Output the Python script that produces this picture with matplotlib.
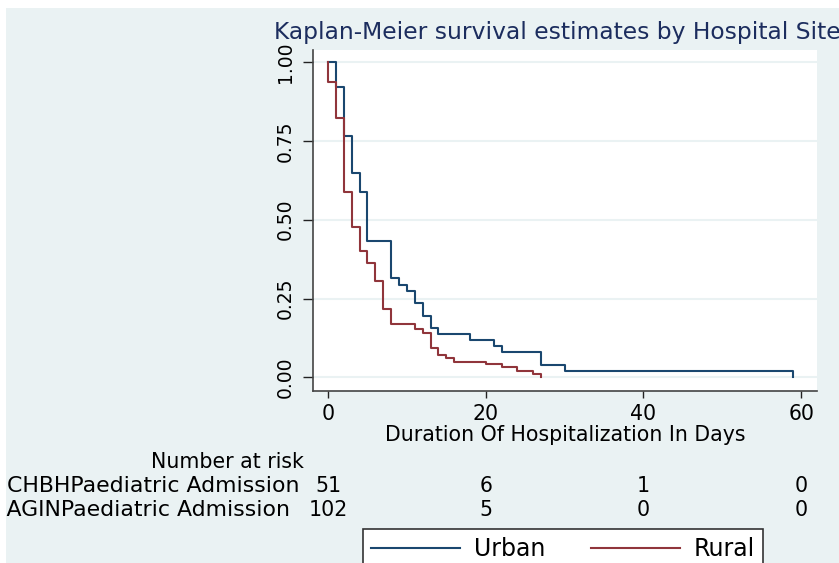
import matplotlib
matplotlib.use('Agg')
import matplotlib.pyplot as plt
from matplotlib.patches import Rectangle
from matplotlib.transforms import blended_transform_factory

W, H = 839, 563

# Kaplan-Meier steps
urban_days = [0, 1, 2, 3, 4, 5, 8, 9, 10, 11, 12, 13, 14, 18, 21, 22, 27, 30, 59]
urban_surv = [1.000, 0.922, 0.765, 0.647, 0.588, 0.431, 0.314, 0.294, 0.275, 0.235,
              0.196, 0.157, 0.137, 0.118, 0.099, 0.080, 0.040, 0.020, 0.000]

rural_days = [0, 0, 1, 2, 3, 4, 5, 6, 7, 8, 11, 12, 13, 14, 15, 16, 20, 22, 24, 26, 27]
rural_surv = [1.000, 0.938, 0.822, 0.589, 0.478, 0.402, 0.364, 0.307, 0.218, 0.169,
              0.153, 0.140, 0.092, 0.071, 0.061, 0.050, 0.042, 0.032, 0.021, 0.011, 0.000]

x_ticks = [0, 20, 40, 60]
y_ticks = [0.0, 0.25, 0.5, 0.75, 1.0]

risk_labels = ['CHBHPaediatric Admission', '= AGINPaediatric Admission']
urban_at_risk = [51, 6, 1, 0]
rural_at_risk = [102, 5, 0, 0]
series_names = ['Urban', 'Rural']

navy = '#1a476f'
maroon = '#90353b'
bg = '#eaf2f3'


def fx(px):
    return px / W


def fy(py):
    return 1 - py / H


fig = plt.figure(figsize=(W / 100, H / 100), dpi=100)
fig.patch.set_facecolor('white')
# light Stata-style background (small white strip at top and left)
fig.add_artist(Rectangle((fx(6), 0), 1, fy(8), transform=fig.transFigure,
                         facecolor=bg, edgecolor='none', zorder=-10))

ax = fig.add_axes([fx(313), fy(391), fx(817) - fx(313), fy(50) - fy(391)])
ax.set_facecolor('white')

l1, = ax.step(urban_days, urban_surv, where='post', color=navy, lw=1.5, zorder=3)
l2, = ax.step(rural_days, rural_surv, where='post', color=maroon, lw=1.5, zorder=3)

ax.set_xlim(-1.9, 62.0)
ax.set_ylim(-0.043, 1.038)
ax.set_xticks(x_ticks)
ax.set_yticks(y_ticks)
ax.set_yticklabels(['%.2f' % v for v in y_ticks])

# gridlines in background colour
ax.grid(axis='y', color=bg, lw=1.5, zorder=0)
ax.set_axisbelow(True)

for s in ['top', 'right']:
    ax.spines[s].set_visible(False)
for s in ['left', 'bottom']:
    ax.spines[s].set_color('#444444')
    ax.spines[s].set_linewidth(1.2)

ax.tick_params(axis='x', length=5, width=1, color='#222222', pad=4, labelsize=14.8)
ax.tick_params(axis='y', length=7.2, width=1, color='#222222', pad=6, labelsize=13.5,
               labelrotation=90)
for lab in ax.get_yticklabels():
    lab.set_va('center')

ax.set_xlabel('Duration Of Hospitalization In Days', fontsize=14.8, color='black')
ax.xaxis.set_label_coords(0.5, (fy(435) - fy(391)) / (fy(50) - fy(391)))
ax.xaxis.label.set_va('center')

# title
fig.text(fx(274), fy(39), 'Kaplan-Meier survival estimates by Hospital Site',
         fontsize=16.8, color='#1c2d5e', ha='left', va='baseline')

# number at risk table
fig.text(fx(227), fy(462), 'Number at risk', fontsize=14.8, ha='center', va='center')
fig.text(fx(7), fy(486), risk_labels[0], fontsize=15.8, ha='left', va='center')
fig.text(fx(-19), fy(510), risk_labels[1], fontsize=15.8, ha='left', va='center')

tr = blended_transform_factory(ax.transData, fig.transFigure)
for t, n in zip(x_ticks, urban_at_risk):
    fig.text(t, fy(486), str(n), transform=tr, fontsize=14.8, ha='center', va='center')
for t, n in zip(x_ticks, rural_at_risk):
    fig.text(t, fy(510), str(n), transform=tr, fontsize=14.8, ha='center', va='center')

leg = fig.legend(handles=[l1, l2], labels=series_names, loc='upper left',
                 bbox_to_anchor=(fx(363), fy(529)), bbox_transform=fig.transFigure,
                 ncol=2, fancybox=False, framealpha=1, facecolor='white',
                 edgecolor='#333333', borderpad=0.35, borderaxespad=0,
                 handlelength=3.77, handletextpad=0.6, columnspacing=1.9,
                 fontsize=17)
leg.get_frame().set_linewidth(1.2)

fig.savefig('out.png', dpi=100, facecolor=fig.get_facecolor())
